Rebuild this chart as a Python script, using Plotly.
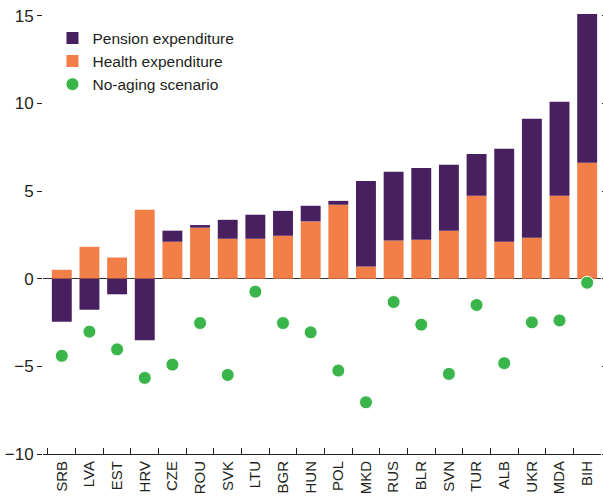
import plotly.graph_objects as go

countries = ["SRB", "LVA", "EST", "HRV", "CZE", "ROU", "SVK", "LTU", "BGR", "HUN",
             "POL", "MKD", "RUS", "BLR", "SVN", "TUR", "ALB", "UKR", "MDA", "BIH"]
pension = [-2.45, -1.77, -0.89, -3.51, 0.63, 0.15, 1.08, 1.37, 1.42, 0.89,
           0.22, 4.88, 3.92, 4.10, 3.76, 2.39, 5.30, 6.78, 5.36, 8.49]
health = [0.51, 1.82, 1.21, 3.93, 2.11, 2.91, 2.28, 2.28, 2.45, 3.27,
          4.22, 0.70, 2.18, 2.22, 2.74, 4.73, 2.11, 2.34, 4.73, 6.61]
no_aging = [-4.40, -3.02, -4.03, -5.66, -4.90, -2.53, -5.49, -0.74, -2.53, -3.06,
            -5.24, -7.05, -1.33, -2.62, -5.43, -1.50, -4.82, -2.49, -2.38, -0.23]
y_ticks = [-10, -5, 0, 5, 10, 15]
y_tick_text = ["\u221210", "\u22125", "0", "5", "10", "15"]

PURPLE = "#482060"
ORANGE = "#F37F48"
GREEN = "#3AB54A"
TEXT = "#231F20"
FONT = "Liberation Sans, Arial, sans-serif"

fig = go.Figure()
fig.add_trace(go.Bar(x=countries, y=health, name="Health expenditure",
                     marker=dict(color=ORANGE, line=dict(width=0)),
                     width=0.72, legendrank=2))
fig.add_trace(go.Bar(x=countries, y=pension, name="Pension expenditure",
                     marker=dict(color=PURPLE, line=dict(width=0)),
                     width=0.72, legendrank=1))
fig.add_trace(go.Scatter(x=countries, y=no_aging, mode="markers", name="No-aging scenario",
                         marker=dict(color=GREEN, size=13, line=dict(color="white", width=1)),
                         legendrank=3))

fig.update_layout(
    width=603, height=499,
    margin=dict(l=43, r=2, t=7, b=45),
    barmode="relative",
    plot_bgcolor="white", paper_bgcolor="white",
    font=dict(family=FONT, size=16, color=TEXT),
    showlegend=True,
    legend=dict(x=0.017, y=0.968, xanchor="left", yanchor="top",
                traceorder="normal", bgcolor="rgba(0,0,0,0)",
                font=dict(family=FONT, size=15.5, color=TEXT),
                tracegroupgap=0),
    xaxis=dict(
        type="category", range=[-0.68, 19.5],
        showline=True, linecolor=TEXT, linewidth=1,
        ticks="inside", tickson="boundaries", ticklen=6, tickcolor=TEXT,
        tickangle=-90, tickfont=dict(family=FONT, size=15, color=TEXT),
        showgrid=False, zeroline=False, fixedrange=True,
    ),
    yaxis=dict(
        range=[-10, 15.5],
        tickvals=y_ticks, ticktext=y_tick_text,
        ticks="outside", ticklen=5, tickcolor=TEXT,
        mirror="ticks",
        showline=False, showgrid=False,
        zeroline=True, zerolinecolor="#333333", zerolinewidth=1,
        tickfont=dict(family=FONT, size=17, color=TEXT),
        fixedrange=True,
    ),
)

fig.write_html("out.html", config={"displayModeBar": False},
               post_script="document.body.style.margin='0';")
